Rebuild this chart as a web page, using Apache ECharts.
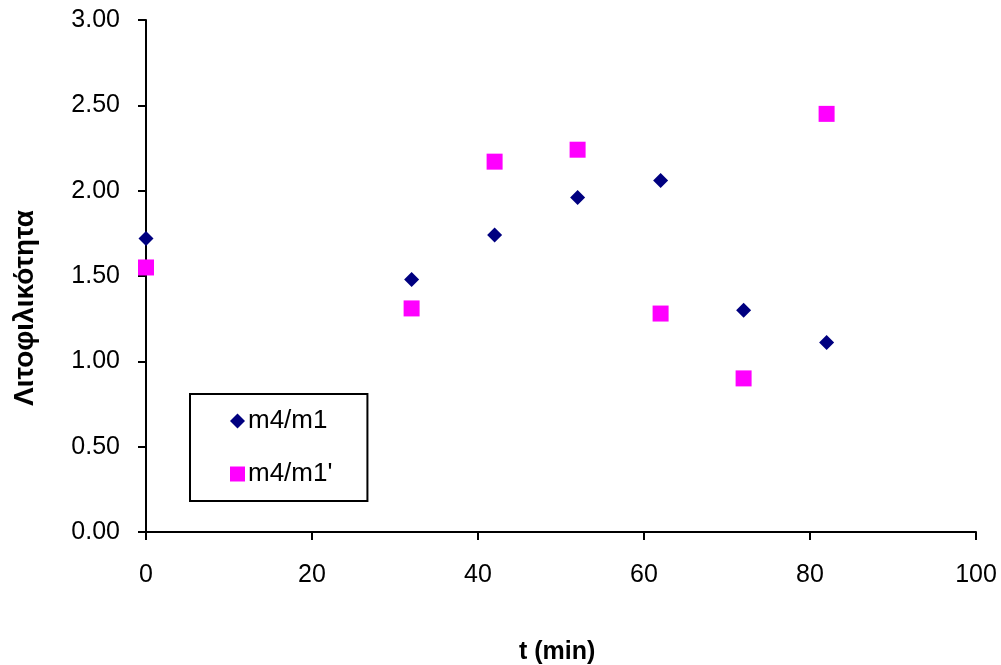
<!DOCTYPE html>
<html>
<head>
<meta charset="utf-8">
<script src="https://cdn.jsdelivr.net/npm/echarts@6/dist/echarts.min.js"></script>
<style>
html,body{margin:0;padding:0;background:#fff;}
#chart{width:1001px;height:665px;}
</style>
</head>
<body>
<div id="chart"></div>
<script>
const times = [0, 32, 42, 52, 62, 72, 82];
const seriesNames = ['m4/m1', "m4/m1'"];
const m4m1 = [1.72, 1.48, 1.74, 1.96, 2.06, 1.30, 1.11];
const m4m1p = [1.55, 1.31, 2.17, 2.24, 1.28, 0.90, 2.45];
const yAxisTitle = 'Λιτοφιλικότητα';
const xAxisTitle = 't (min)';

const font = '"Liberation Sans", Arial, sans-serif';
const chart = echarts.init(document.getElementById('chart'));
chart.setOption({
  animation: false,
  backgroundColor: '#ffffff',
  grid: {left: 146, top: 20, right: 25, bottom: 133, containLabel: false},
  xAxis: {
    type: 'value', min: 0, max: 100, interval: 20,
    axisLine: {show: true, onZero: false, lineStyle: {color: '#000', width: 2}},
    axisTick: {show: true, inside: false, length: 8, lineStyle: {color: '#000', width: 2}},
    axisLabel: {color: '#000', fontSize: 25, fontFamily: font, margin: 31},
    splitLine: {show: false}
  },
  yAxis: {
    type: 'value', min: 0, max: 3, interval: 0.5,
    axisLine: {show: true, lineStyle: {color: '#000', width: 2}},
    axisTick: {show: true, inside: false, length: 8, lineStyle: {color: '#000', width: 2}},
    axisLabel: {color: '#000', fontSize: 25, fontFamily: font, margin: 26,
      formatter: v => v.toFixed(2)},
    splitLine: {show: false}
  },
  legend: {
    orient: 'vertical',
    left: 190, top: 394,
    data: [{name: seriesNames[0], icon: 'diamond'}, {name: seriesNames[1], icon: 'rect'}],
    itemWidth: 15, itemHeight: 15, itemGap: 27,
    padding: [14, 35, 14, 40],
    borderColor: '#000', borderWidth: 2,
    itemStyle: {opacity: 1},
    textStyle: {color: '#000', fontSize: 26, fontFamily: font, padding: [6, 0, 0, -2]}
  },
  graphic: [
    {type: 'text', left: 11, top: 210, rotation: Math.PI / 2,
      style: {text: yAxisTitle, font: 'bold 28px "Liberation Sans", Arial, sans-serif', fill: '#000'}},
    {type: 'text', left: 519, top: 640,
      style: {text: xAxisTitle, font: 'bold 25px "Liberation Sans", Arial, sans-serif', fill: '#000'}}
  ],
  series: [
    {name: seriesNames[0], type: 'scatter', symbol: 'diamond', symbolSize: 15,
      itemStyle: {color: '#000080', opacity: 1},
      data: times.map((t, i) => [t, m4m1[i]])},
    {name: seriesNames[1], type: 'scatter', symbol: 'rect', symbolSize: 16,
      itemStyle: {color: '#ff00ff', opacity: 1},
      data: times.map((t, i) => [t, m4m1p[i]])}
  ]
});
</script>
</body>
</html>
